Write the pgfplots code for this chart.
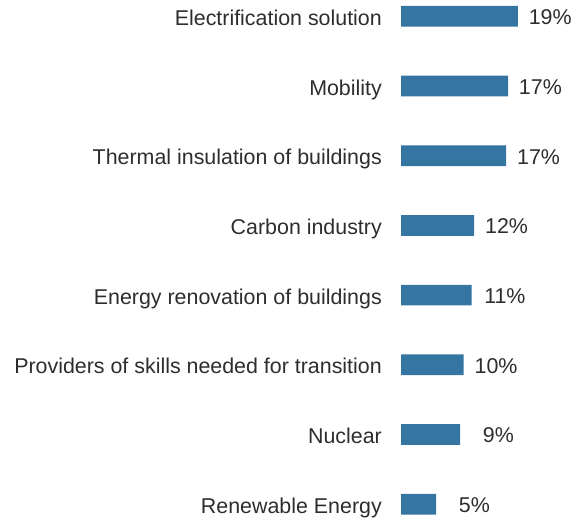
\documentclass[border=0pt]{standalone}
\usepackage{pgfplots}
\pgfplotsset{compat=1.18}
\usepackage{fontspec}
\setmainfont{Liberation Sans}
\definecolor{barblue}{RGB}{53,117,161}
\definecolor{txt}{RGB}{45,45,45}
\begin{document}
\begin{tikzpicture}[x=1pt,y=1pt]
\useasboundingbox (0,0) rectangle (580,519);
\begin{axis}[
  at={(401pt,516.64pt)}, anchor=north west,
  scale only axis, width=178.35pt, height=515.78pt,
  xmin=0, xmax=29, ymin=-0.2, ymax=7.2, y dir=reverse,
  xbar, bar width=20.7pt, bar shift=0pt,
  axis line style={draw=none},
  xtick=\empty, ytick={0,...,7},
  major tick length=0pt,
  yticklabels={Electrification solution, Mobility, Thermal insulation of buildings, Carbon industry, Energy renovation of buildings, Providers of skills needed for transition, Nuclear, Renewable Energy},
  yticklabel style={font=\fontsize{21.4}{24}\selectfont, text=txt, inner sep=0pt, anchor=east, text height=15.3pt, text depth=0pt, xshift=-19pt, yshift=-1.5pt},
  clip=false,
  point meta=explicit symbolic,
  nodes near coords,
  every node near coord/.append style={font=\fontsize{21.4}{24}\selectfont, text=txt, inner sep=0pt, anchor=east, text height=15.3pt, text depth=0pt, xshift=54pt, yshift=-0.8pt},
]
\addplot[fill=barblue, draw=none] coordinates {
  (19.0,0) [19\%]
  (17.4,1) [17\%]
  (17.1,2) [17\%]
  (11.9,3) [12\%]
  (11.5,4) [11\%]
  (10.2,5) [10\%]
  (9.6,6) [9\%]
  (5.7,7) [5\%]
};
\end{axis}
\end{tikzpicture}
\end{document}
